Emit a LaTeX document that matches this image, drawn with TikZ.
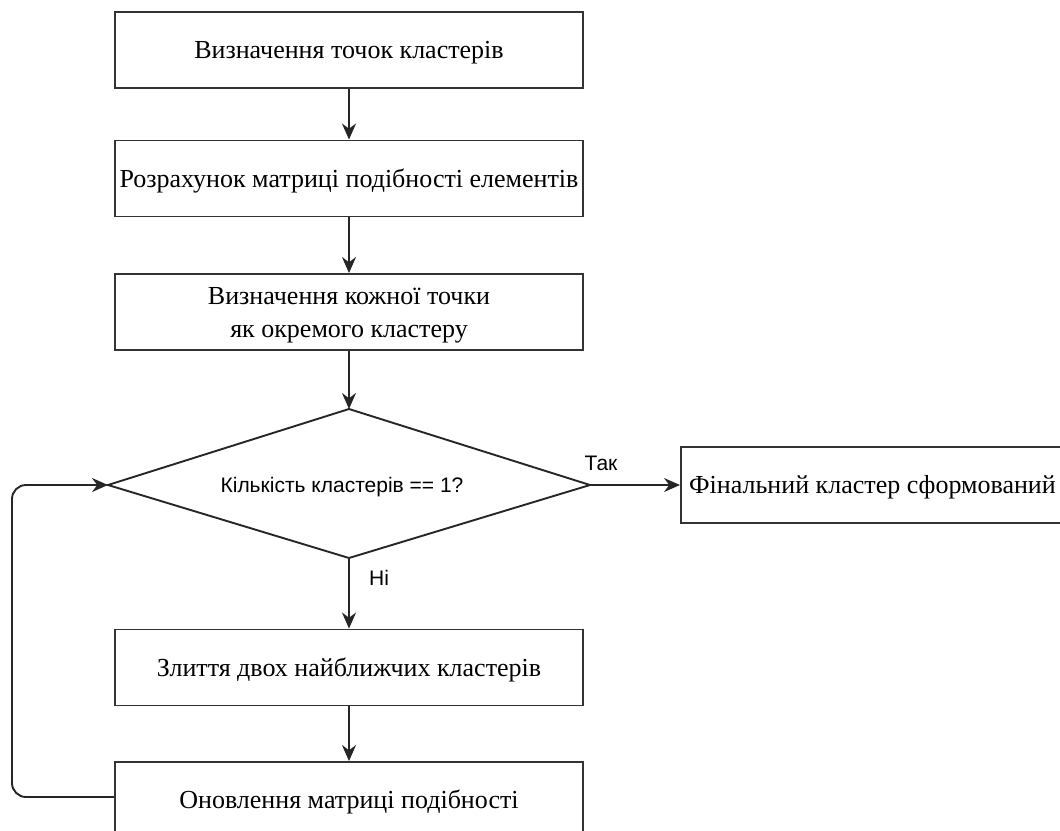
\documentclass[tikz,border=0pt]{standalone}
\usepackage{fontspec}
\setmainfont{Liberation Serif}
\newfontfamily\arialfont{Liberation Sans}
\usetikzlibrary{shapes.geometric,arrows.meta}
\begin{document}
\begin{tikzpicture}[x=1pt,y=-1pt,
  box/.style={draw=black!80,line width=1.9pt,minimum width=468pt,minimum height=76pt,inner sep=0pt},
  boxtext/.style={font=\fontsize{26}{33}\selectfont,align=center,inner sep=0pt},
  conn/.style={draw=black!85,line width=1.9pt,-{Stealth[length=16pt,width=14pt]}},
  lbl/.style={font=\arialfont\fontsize{21}{25}\selectfont}]
\useasboundingbox (0,0) rectangle (1060,830);
\node[box] (b1) at (349,50) {};
\node[boxtext] (t1) at (349,53) {Визначення точок кластерів};
\node[box] (b2) at (349,178.5) {};
\node[boxtext] (t2) at (349,181) {Розрахунок матриці подібності елементів};
\node[box] (b3) at (349,312) {};
\node[boxtext] (t3) at (349,315) {Визначення кожної точки\\як окремого кластеру};
\coordinate (dT) at (349,409);
\coordinate (dB) at (349,558);
\coordinate (dL) at (108,485);
\coordinate (dR) at (590,485);
\draw[draw=black!85,line width=1.9pt] (dT) -- (dR) -- (dB) -- (dL) -- cycle;
\node[font=\arialfont\fontsize{21}{25}\selectfont] (dtext) at (342,487) {Кількість кластерів == 1?};
\node[box,minimum width=392pt,anchor=west] (fin) at (680,485) {};
\node[boxtext,anchor=west] (fint) at (689,487) {Фінальний кластер сформований};
\node[box] (b4) at (349,667.5) {};
\node[boxtext] (t4) at (349,670) {Злиття двох найближчих кластерів};
\node[box] (b5) at (349,800) {};
\node[boxtext] (t5) at (349,802) {Оновлення матриці подібності};
\draw[conn] (b1.south) -- (b2.north);
\draw[conn] (b2.south) -- (b3.north);
\draw[conn] (b3.south) -- (dT);
\draw[conn] (dR) -- (fin.west);
\draw[conn] (dB) -- (b4.north);
\draw[conn] (b4.south) -- (b5.north);
\draw[conn,rounded corners=14pt] (b5.west |- 0,797) -- (12,797) -- (12,485) -- (dL);
\node[lbl] (tak) at (601,463) {Так};
\node[lbl] (ni) at (379,578) {Ні};
\end{tikzpicture}
\end{document}
